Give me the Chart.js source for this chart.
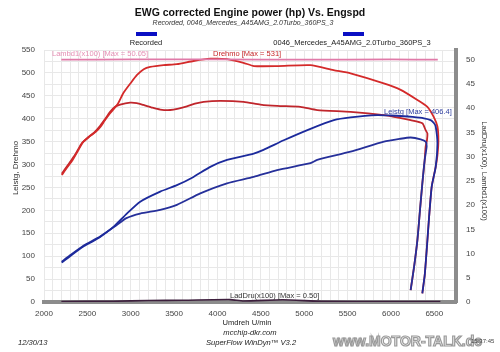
<!DOCTYPE html>
<html>
<head>
<meta charset="utf-8">
<script src="https://cdn.jsdelivr.net/npm/chart.js@4.4.1/dist/chart.umd.min.js"></script>
<style>
  html, body { margin: 0; padding: 0; background: #fff; }
  canvas { display: block; }
</style>
</head>
<body>
<canvas id="dynoChart" width="500" height="352"></canvas>
<script>
// Run A (upper curves) - torque / power, incl. coast-down at the end
const runA_torqueRpm = [2205, 2260, 2330, 2400, 2454, 2530, 2600, 2650, 2700, 2762, 2850, 2915, 3000, 3070, 3150, 3224, 3378, 3532, 3724, 3917, 4110, 4300, 4420, 4700, 5072, 5338, 5534, 5917, 6112, 6305, 6420, 6493, 6536, 6547, 6536, 6516, 6470, 6440, 6412, 6390, 6362];
const runA_torque    = [277, 292, 310, 333, 350, 362, 372, 382, 396, 412, 432, 456, 478, 495, 508, 513, 517, 519, 526, 531, 530, 522, 515, 515, 517, 506, 499, 477, 463, 441, 426, 404, 383, 353, 320, 295, 252, 186, 113, 60, 19];

const runA_powerRpm = [2204, 2300, 2454, 2550, 2647, 2800, 2955, 3109, 3340, 3532, 3724, 3917, 4110, 4418, 4530, 4764, 5072, 5342, 5534, 5842, 6000, 6112, 6250, 6381, 6458, 6497, 6516, 6536, 6516, 6470, 6440, 6412, 6390, 6362];
const runA_power    = [86, 100, 121, 131, 142, 164, 193, 219, 241, 255, 273, 295, 310, 324, 332, 353, 378, 397, 403, 408, 407, 406, 404, 401, 397, 390, 383, 346, 295, 252, 186, 113, 60, 19];

// Run B (lower curves)
const runB_torqueRpm = [2205, 2280, 2360, 2430, 2500, 2580, 2650, 2700, 2762, 2820, 2878, 2993, 3070, 3147, 3250, 3340, 3455, 3550, 3648, 3740, 3840, 4033, 4302, 4495, 4688, 4957, 5150, 5534, 5919, 6100, 6227, 6362, 6400, 6420, 6415, 6400, 6389, 6362, 6335, 6305, 6267, 6227];
const runB_torque    = [280, 300, 322, 345, 358, 370, 385, 398, 415, 426, 431, 435, 434, 430, 424, 420, 419, 422, 427, 433, 437, 439, 437, 431, 428, 426, 419, 415, 408, 402, 397, 390, 375, 368, 353, 339, 310, 259, 201, 135, 77, 26];

const runB_powerRpm = [2204, 2300, 2454, 2647, 2839, 2950, 3109, 3340, 3532, 3802, 4110, 4418, 4688, 5072, 5150, 5534, 5919, 6100, 6227, 6343, 6400, 6412, 6389, 6362, 6335, 6305, 6267, 6227];
const runB_power    = [88, 102, 123, 143, 168, 183, 193, 201, 212, 237, 259, 273, 288, 303, 310, 328, 350, 356, 359, 355, 350, 340, 310, 259, 201, 135, 77, 26];

// right axis series
const lambdaRpm = [2200, 3000, 4000, 5000, 6000, 6540];
const lambda    = [50.0, 50.05, 50.05, 50.0, 50.05, 50.0];
const ladDruRpm = [2200, 2800, 3200, 3600, 4150, 4300, 4750, 5200, 6000, 6570];
const ladDru    = [0.1, 0.15, 0.3, 0.35, 0.5, 0.2, 0.45, 0.15, 0.1, 0.1];

const xTickLabels = ["2000", "2500", "3000", "3500", "4000", "4500", "5000", "5500", "6000", "6500"];
const rightTicks = [0, 5, 10, 15, 20, 25, 30, 35, 40, 45, 50];

const FONT = "'Liberation Sans', Arial, sans-serif";

function pts(xs, ys) {
  return xs.map((x, i) => ({ x: x, y: ys[i] }));
}

// all the static texts of the dyno sheet
const sheetText = {
  id: "sheetText",
  afterDatasetsDraw(chart) {
    const c = chart.ctx;
    c.save();
    c.textBaseline = "middle";
    c.textAlign = "center";

    c.fillStyle = "#111";
    c.font = "bold 10.5px " + FONT;
    c.fillText("EWG corrected Engine power (hp) Vs. Engspd", 250, 13);
    c.font = "italic 7px " + FONT;
    c.fillStyle = "#333";
    c.fillText("Recorded, 0046_Mercedes_A45AMG_2.0Turbo_360PS_3", 243, 23);

    // legend
    c.fillStyle = "#0a0fc4";
    c.fillRect(136, 32, 21, 4);
    c.fillRect(343, 32, 21, 4);
    c.fillStyle = "#222";
    c.font = "7.5px " + FONT;
    c.fillText("Recorded", 146, 43);
    c.fillText("0046_Mercedes_A45AMG_2.0Turbo_360PS_3", 352, 43);

    // max labels in the plot
    c.textAlign = "left";
    c.fillStyle = "#e58fb4";
    c.fillText("Lambd1(x100) [Max = 50.05]", 52, 54);
    c.fillStyle = "#c8282a";
    c.fillText("Drehmo [Max = 531]", 213, 54);
    c.fillStyle = "#3040a0";
    c.fillText("Leistg [Max = 406.4]", 384, 112);
    c.fillStyle = "#333";
    c.fillText("LadDru(x100) [Max = 0.50]", 230, 296);

    // axis titles
    c.fillStyle = "#333";
    c.font = "8px " + FONT;
    c.save();
    c.translate(16, 168);
    c.rotate(-Math.PI / 2);
    c.textAlign = "center";
    c.fillText("Leistg, Drehmo", 0, 0);
    c.restore();
    c.save();
    c.translate(484, 171);
    c.rotate(Math.PI / 2);
    c.textAlign = "center";
    c.font = "7.6px " + FONT;
    c.fillText("LadDru(x100), Lambd1(x100)", 0, 0);
    c.restore();

    // footer
    c.textAlign = "center";
    c.fillStyle = "#222";
    c.font = "7.6px " + FONT;
    c.fillText("Umdreh U/min", 247, 323);
    c.font = "italic 7.6px " + FONT;
    c.fillText("mcchip-dkr.com", 250, 333);
    c.fillText("SuperFlow WinDyn\u2122 V3.2", 251, 343);
    c.textAlign = "left";
    c.fillText("12/30/13", 18, 343);

    c.font = "bold 14px " + FONT;
    c.strokeStyle = "#9a9a9a";
    c.lineWidth = 1.2;
    c.fillStyle = "#f4f4f4";
    c.fillText("www.MOTOR-TALK.de", 333, 342);
    c.strokeText("www.MOTOR-TALK.de", 333, 342);
    c.font = "6px " + FONT;
    c.fillStyle = "#444";
    c.fillText("15:37:45", 471, 341);
    c.restore();
  }
};

window.addEventListener("DOMContentLoaded", () => {
  const ctx = document.getElementById("dynoChart").getContext("2d");

  const line = (label, data, color, axis, width) => ({
    label: label,
    data: data,
    borderColor: color,
    backgroundColor: color,
    borderWidth: width,
    pointRadius: 0,
    tension: 0.2,
    fill: false,
    yAxisID: axis
  });

  const tickFont = { family: FONT, size: 8 };

  new Chart(ctx, {
    type: "line",
    data: {
      datasets: [
        line("Lambd1 Recorded", pts(lambdaRpm, lambda), "#e07aa8", "y2", 1.8),
        line("LadDru Recorded", pts(ladDruRpm, ladDru), "#3d1f3d", "y2", 1.6),
        line("Leistg Recorded", pts(runA_powerRpm, runA_power), "#1c2a9c", "y", 1.8),
        line("Leistg 0046", pts(runB_powerRpm, runB_power), "#26309a", "y", 1.8),
        line("Drehmo Recorded", pts(runA_torqueRpm, runA_torque), "#d42a2a", "y", 1.8),
        line("Drehmo 0046", pts(runB_torqueRpm, runB_torque), "#c0262c", "y", 1.8)
      ]
    },
    options: {
      responsive: false,
      animation: false,
      layout: { padding: { top: 50, left: 0, right: 0, bottom: 0 } },
      plugins: {
        legend: { display: false },
        title: { display: false },
        tooltip: { enabled: false }
      },
      scales: {
        x: {
          type: "linear",
          min: 2000,
          max: 6750,
          afterFit(scale) { scale.height = 50; },
          grid: { color: "#e8e8e8", drawTicks: false },
          border: { display: true, color: "#8c8c8c", width: 4 },
          ticks: {
            stepSize: 100,
            padding: 7,
            autoSkip: false,
            maxRotation: 0,
            color: "#444",
            font: tickFont,
            callback: (v) => xTickLabels.includes(String(v)) ? String(v) : ""
          }
        },
        y: {
          position: "left",
          min: 0,
          max: 550,
          afterFit(scale) { scale.width = 44; },
          grid: { color: "#e8e8e8", drawTicks: false },
          border: { display: false },
          ticks: {
            stepSize: 25,
            padding: 9,
            autoSkip: false,
            color: "#444",
            font: tickFont,
            callback: (v) => v % 50 === 0 ? String(v) : ""
          }
        },
        y2: {
          position: "right",
          min: 0,
          max: 52,
          afterFit(scale) { scale.width = 44; },
          afterBuildTicks(scale) { scale.ticks = rightTicks.map((v) => ({ value: v })); },
          grid: { display: false, drawTicks: false },
          border: { display: true, color: "#8c8c8c", width: 4 },
          ticks: {
            padding: 10,
            autoSkip: false,
            color: "#444",
            font: tickFont,
            callback: (v) => String(v)
          }
        }
      }
    },
    plugins: [sheetText]
  });
});
</script>
</body>
</html>
